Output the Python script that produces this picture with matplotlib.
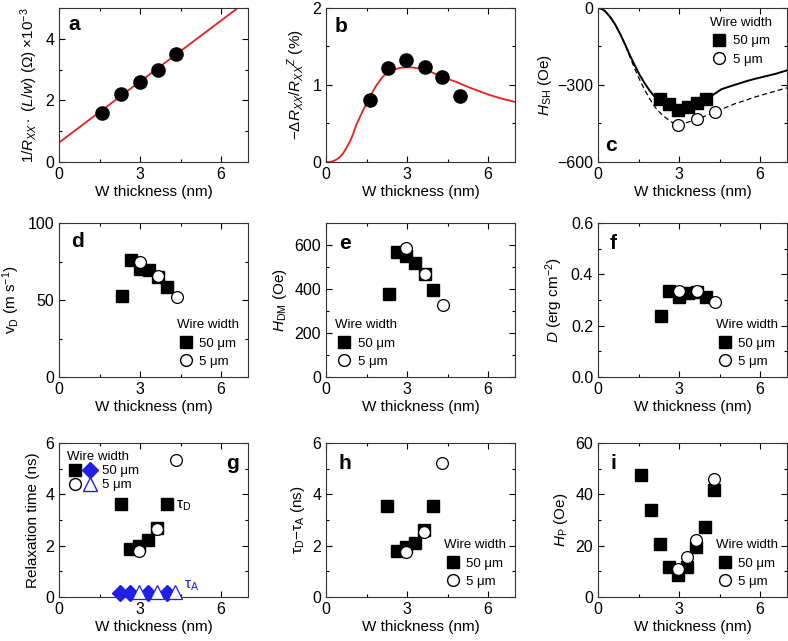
import matplotlib
matplotlib.use('Agg')
import matplotlib.pyplot as plt
from matplotlib.lines import Line2D
from matplotlib.legend_handler import HandlerTuple
from matplotlib.ticker import MultipleLocator, FormatStrFormatter

plt.rcParams['font.family'] = ['Liberation Sans', 'DejaVu Sans']
plt.rcParams['mathtext.fontset'] = 'custom'
plt.rcParams['mathtext.rm'] = 'Liberation Sans'
plt.rcParams['mathtext.it'] = 'Liberation Sans:italic'
plt.rcParams['mathtext.bf'] = 'Liberation Sans:bold'
plt.rcParams['font.size'] = 11
plt.rcParams['axes.linewidth'] = 0.8
plt.rcParams['axes.edgecolor'] = '#333333'

RED = '#e3211c'
BLUE = '#1f1fe6'

# --- data ---
# a
a_x = [1.6, 2.3, 3.0, 3.65, 4.35]
a_y = [1.6, 2.2, 2.6, 3.0, 3.5]
a_fit_x = [0, 7]
a_fit_y = [0.63, 5.25]
# b
b_x = [1.64, 2.3, 2.98, 3.65, 4.31, 4.98]
b_y = [0.81, 1.22, 1.32, 1.23, 1.11, 0.86]
b_fit_x = [0, 0.14, 0.26, 0.38, 0.5, 0.63, 0.75, 0.88, 1.0, 1.12, 1.25, 1.37, 1.5, 1.62, 1.74,
           1.86, 1.98, 2.11, 2.24, 2.36, 2.55, 2.73, 2.9, 3.04, 3.2, 3.35, 3.52, 3.72, 3.95,
           4.21, 4.5, 4.83, 5.12, 5.44, 5.75, 6.06, 6.3, 6.54, 6.77, 7.0]
b_fit_y = [0, 0, 0.01, 0.03, 0.06, 0.11, 0.18, 0.26, 0.36, 0.48, 0.58, 0.67, 0.76, 0.84, 0.92,
           0.99, 1.05, 1.11, 1.15, 1.18, 1.205, 1.22, 1.228, 1.23, 1.228, 1.22, 1.21, 1.19, 1.16,
           1.12, 1.08, 1.04, 0.995, 0.95, 0.91, 0.87, 0.845, 0.82, 0.80, 0.78]
# c
c_sq_x = [2.3, 2.63, 2.98, 3.32, 3.66, 4.0]
c_sq_y = [-353, -374, -396, -385, -370, -353]
c_ci_x = [2.98, 3.65, 4.33]
c_ci_y = [-457, -434, -405]
c_solid_x = [0, 0.13, 0.26, 0.45, 0.63, 0.82, 1.0, 1.18, 1.37, 1.55, 1.74, 1.92, 2.11, 2.3,
             2.63, 2.98, 3.32, 3.66, 4.0, 4.15, 4.35, 4.58, 4.9, 5.2, 5.5, 5.81, 6.2, 6.56, 7.0]
c_solid_y = [0, -3, -12, -35, -63, -101, -141, -184, -225, -262, -295, -323, -347, -355,
             -374, -396, -385, -370, -355, -347, -332, -316, -305, -295, -285, -276, -266, -257, -243]
c_dash_x = [0, 0.13, 0.26, 0.45, 0.63, 0.82, 1.0, 1.18, 1.37, 1.55, 1.74, 1.92, 2.11, 2.3,
            2.48, 2.7, 2.98, 3.3, 3.65, 4.0, 4.33, 4.7, 5.07, 5.45, 5.81, 6.4, 7.0]
c_dash_y = [0, -3, -12, -35, -63, -101, -141, -190, -239, -281, -321, -355, -386, -408,
            -425, -443, -457, -446, -434, -420, -405, -389, -373, -360, -347, -329, -311]
# d
d_sq_x = [2.32, 2.65, 3.0, 3.33, 3.66, 3.99]
d_sq_y = [52.5, 75.9, 70, 69.4, 65, 58.6]
d_ci_x = [3.0, 3.68, 4.36]
d_ci_y = [75, 65.6, 52]
# e
e_sq_x = [2.32, 2.63, 2.98, 3.31, 3.65, 3.97]
e_sq_y = [377, 568, 550, 519, 468, 394]
e_ci_x = [2.98, 3.65, 4.33]
e_ci_y = [588, 470, 327]
# f
f_sq_x = [2.32, 2.63, 3.0, 3.33, 3.66, 3.99]
f_sq_y = [0.236, 0.337, 0.312, 0.326, 0.33, 0.311]
f_ci_x = [3.0, 3.68, 4.34]
f_ci_y = [0.337, 0.335, 0.294]
# g
g_sq_x = [2.28, 2.63, 2.96, 3.31, 3.62, 3.99]
g_sq_y = [3.63, 1.87, 2.0, 2.24, 2.7, 3.63]
g_ci_x = [2.96, 3.64, 4.32]
g_ci_y = [1.8, 2.65, 5.35]
g_di_x = [2.26, 2.63, 3.31, 3.99]
g_di_y = [0.14, 0.14, 0.14, 0.14]
g_tr_x = [2.96, 3.62, 4.3]
g_tr_y = [0.18, 0.18, 0.18]
# h
h_sq_x = [2.26, 2.63, 2.96, 3.28, 3.62, 3.97]
h_sq_y = [3.53, 1.8, 1.93, 2.12, 2.6, 3.54]
h_ci_x = [2.96, 3.62, 4.31]
h_ci_y = [1.76, 2.55, 5.23]
# i
i_sq_x = [1.61, 1.95, 2.29, 2.63, 2.96, 3.3, 3.64, 3.97, 4.31]
i_sq_y = [47.7, 33.9, 20.7, 11.6, 8.6, 11.5, 19.3, 27.2, 41.5]
i_ci_x = [2.96, 3.3, 3.64, 4.31]
i_ci_y = [10.8, 15.5, 22.2, 45.8]

MS = 8.5

fig = plt.figure(figsize=(7.88, 6.41), dpi=100)
lefts = [59 / 788, 326 / 788, 598 / 788]
bottoms = [1 - 162 / 641, 1 - 377 / 641, 1 - 597 / 641]
W = 189 / 788
H = 154 / 641
axs = [[fig.add_axes([l, b, W, H]) for l in lefts] for b in bottoms]


def style(ax, ylim, ymaj, ymin):
    ax.set_xlim(0, 7)
    ax.set_ylim(*ylim)
    ax.xaxis.set_major_locator(MultipleLocator(3))
    ax.xaxis.set_minor_locator(MultipleLocator(1.5))
    ax.yaxis.set_major_locator(MultipleLocator(ymaj))
    ax.yaxis.set_minor_locator(MultipleLocator(ymin))
    ax.tick_params(which='both', direction='in', top=True, right=True, labelsize=11.5)
    ax.tick_params(which='major', length=4, width=0.8)
    ax.tick_params(which='minor', length=2.5, width=0.8)
    ax.set_xlabel('W thickness (nm)', fontsize=11, labelpad=2)


def squares(ax, x, y):
    ax.plot(x, y, 's', color='k', ms=MS, ls='', zorder=3)


def circles(ax, x, y):
    ax.plot(x, y, 'o', mfc='w', mec='k', mew=0.9, ms=MS, ls='', zorder=4)


def legend(ax, loc, **kw):
    h = [Line2D([], [], marker='s', color='k', ls='', ms=MS),
         Line2D([], [], marker='o', mfc='w', mec='k', ls='', ms=MS)]
    ax.legend(h, ['50 μm', '5 μm'], title='Wire width', loc=loc, frameon=False,
              fontsize=9.5, title_fontsize=9.5, handletextpad=0.3, handlelength=1.4,
              labelspacing=0.45, borderaxespad=0.3, alignment='left', **kw)


def label(ax, s, x, y):
    ax.text(x, y, s, transform=ax.transAxes, fontsize=15, fontweight='bold', va='center', ha='center')


# a
ax = axs[0][0]
style(ax, (0, 5), 2, 1)
ax.plot(a_fit_x, a_fit_y, color=RED, lw=1.3)
ax.plot(a_x, a_y, 'o', color='k', ms=MS + 1)
ax.set_ylabel(r'$1/R_{XX}\cdot$ $(L/w)$ ($\Omega$) $\times$10$^{-3}$', labelpad=4)
label(ax, 'a', 0.08, 0.89)

# b
ax = axs[0][1]
style(ax, (0, 2), 1, 0.5)
ax.plot(b_fit_x, b_fit_y, color=RED, lw=1.3)
ax.plot(b_x, b_y, 'o', color='k', ms=MS + 1)
ax.set_ylabel(r'$-\Delta R_{XX}/R_{XX}$$^{Z}$ (%)', labelpad=4)
label(ax, 'b', 0.08, 0.88)

# c
ax = axs[0][2]
style(ax, (-600, 0), 300, 150)
ax.plot(c_solid_x, c_solid_y, color='k', lw=1.4)
ax.plot(c_dash_x, c_dash_y, color='k', lw=0.9, ls=(0, (4, 2.5)))
squares(ax, c_sq_x, c_sq_y)
circles(ax, c_ci_x, c_ci_y)
ax.set_ylabel(r'$H_{\rm SH}$ (Oe)', labelpad=2)
legend(ax, 'upper right', bbox_to_anchor=(0.97, 1.0))
label(ax, 'c', 0.07, 0.11)

# d
ax = axs[1][0]
style(ax, (0, 100), 50, 25)
squares(ax, d_sq_x, d_sq_y)
circles(ax, d_ci_x, d_ci_y)
ax.set_ylabel(r'v$_{\rm D}$ (m s$^{-1}$)', labelpad=4)
legend(ax, 'lower right')
label(ax, 'd', 0.1, 0.88)

# e
ax = axs[1][1]
style(ax, (0, 700), 200, 100)
squares(ax, e_sq_x, e_sq_y)
circles(ax, e_ci_x, e_ci_y)
ax.set_ylabel(r'$H_{\rm DM}$ (Oe)', labelpad=4)
legend(ax, 'lower left')
label(ax, 'e', 0.1, 0.87)

# f
ax = axs[1][2]
style(ax, (0, 0.6), 0.2, 0.1)
ax.yaxis.set_major_formatter(FormatStrFormatter('%.1f'))
squares(ax, f_sq_x, f_sq_y)
circles(ax, f_ci_x, f_ci_y)
ax.set_ylabel(r'$D$ (erg cm$^{-2}$)', labelpad=4)
legend(ax, 'lower right')
label(ax, 'f', 0.08, 0.87)

# g
ax = axs[2][0]
style(ax, (0, 6), 2, 1)
squares(ax, g_sq_x, g_sq_y)
circles(ax, g_ci_x, g_ci_y)
ax.plot(g_di_x, g_di_y, 'D', color=BLUE, ms=MS - 0.5, ls='', zorder=3, clip_on=False)
ax.plot(g_tr_x, g_tr_y, '^', mfc='w', mec=BLUE, mew=0.9, ms=MS + 1, ls='', zorder=3, clip_on=False)
ax.text(4.35, 3.55, r'τ$_{\rm D}$', fontsize=11, va='center')
ax.text(4.62, 0.45, r'τ$_{\rm A}$', fontsize=11, color=BLUE, va='center')
ax.set_ylabel('Relaxation time (ns)', labelpad=4)
hs = [(Line2D([], [], marker='s', color='k', ls='', ms=MS),
       Line2D([], [], marker='D', color=BLUE, ls='', ms=MS - 0.5)),
      (Line2D([], [], marker='o', mfc='w', mec='k', ls='', ms=MS),
       Line2D([], [], marker='^', mfc='w', mec=BLUE, ls='', ms=MS + 1))]
ax.legend(hs, ['50 μm', '5 μm'], title='Wire width', loc='upper left', frameon=False,
          fontsize=9.5, title_fontsize=9.5, handletextpad=0.35, handlelength=2.3,
          labelspacing=0.15, borderaxespad=0.2, alignment='left',
          handler_map={tuple: HandlerTuple(ndivide=None, pad=0)})
label(ax, 'g', 0.92, 0.87)

# h
ax = axs[2][1]
style(ax, (0, 6), 2, 1)
squares(ax, h_sq_x, h_sq_y)
circles(ax, h_ci_x, h_ci_y)
ax.set_ylabel(r'τ$_{\rm D}$$-$τ$_{\rm A}$ (ns)', labelpad=4)
legend(ax, 'lower right')
label(ax, 'h', 0.1, 0.87)

# i
ax = axs[2][2]
style(ax, (0, 60), 20, 10)
squares(ax, i_sq_x, i_sq_y)
circles(ax, i_ci_x, i_ci_y)
ax.set_ylabel(r'$H_{\rm P}$ (Oe)', labelpad=4)
legend(ax, 'lower right')
label(ax, 'i', 0.08, 0.87)

fig.savefig('out.png', dpi=100)
